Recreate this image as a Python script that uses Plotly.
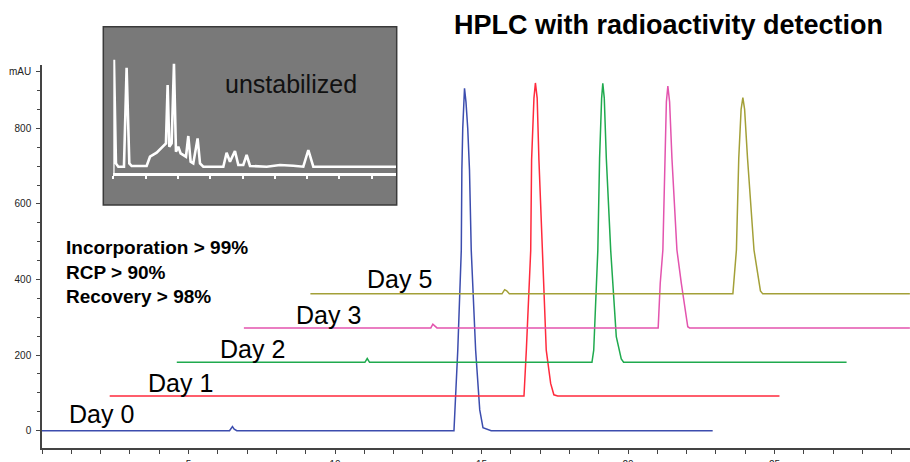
import plotly.graph_objects as go

# ---------------- data ----------------
day_names = ["Day 0", "Day 1", "Day 2", "Day 3", "Day 5"]
day_colors = ["#3C4DAE", "#FF2A3C", "#1FAA4E", "#E354AE", "#A3A038"]

day0_time = [0, 6.40, 6.50, 6.56, 6.65, 14.06, 14.19, 14.31, 14.33, 14.36, 14.42, 14.47, 14.53, 14.59, 14.65, 14.80, 14.94, 15.05, 15.33, 22.89]
day0_mau = [0, 0, 11, 4, 0, 0, 213, 477, 690, 800, 906, 870, 800, 690, 477, 213, 55, 8, 0, 0]

day1_time = [2.31, 16.45, 16.53, 16.68, 16.71, 16.79, 16.84, 16.90, 16.96, 17.07, 17.21, 17.36, 17.47, 17.60, 25.17]
day1_mau = [92, 92, 213, 477, 716, 880, 920, 880, 716, 477, 213, 125, 95, 92, 92]

day2_time = [4.60, 11.02, 11.10, 11.18, 18.77, 18.83, 18.97, 19.03, 19.10, 19.14, 19.19, 19.26, 19.41, 19.60, 19.77, 19.85, 27.46]
day2_mau = [181, 181, 191, 181, 181, 213, 477, 720, 880, 919, 880, 720, 477, 249, 190, 181, 181]

day3_time = [6.89, 13.27, 13.34, 13.42, 13.48, 21.03, 21.10, 21.19, 21.25, 21.31, 21.36, 21.42, 21.50, 21.67, 21.82, 22.04, 22.10, 29.62]
day3_mau = [272, 272, 282, 275, 272, 272, 390, 478, 720, 870, 912, 870, 720, 478, 390, 275, 272, 272]

day5_time = [9.16, 15.70, 15.79, 15.86, 15.95, 23.58, 23.70, 23.78, 23.86, 23.92, 23.98, 24.08, 24.30, 24.43, 24.52, 24.60, 29.62]
day5_mau = [362, 362, 373, 370, 362, 362, 478, 720, 850, 881, 850, 720, 478, 407, 370, 362, 362]

inset_time = [0, 0.10, 0.41, 0.77, 1.65, 2.06, 2.48, 2.84, 5.16, 5.68, 6.71, 7.74, 8.15, 8.41, 8.67, 9.03, 9.39, 9.70,
              10.06, 10.42, 10.84, 11.25, 11.61, 11.97, 12.38, 13.05, 13.42, 13.93, 17.03, 17.54, 18.06, 18.83, 19.35,
              20.12, 20.64, 21.16, 23.74, 25.80, 27.86, 29.41, 30.19, 30.96, 43.86]
inset_signal = [-6.6, 107, 3.3, 0, 0, 99, 3.3, 0.7, 0.7, 10, 14, 20.7, 23.3, 81.7, 20, 23.3, 103, 15,
                20, 13.3, 11.7, 10, 30.7, 5, 3.3, 28.3, 3.3, 0, 0, 14, 5, 15.7, 1.7,
                1.7, 11.7, 0.7, 0, 1.7, 1, 0, 16.7, 0, 0]

y_tick_vals = [0, 200, 400, 600, 800, 950]
y_tick_text = ["0", "200", "400", "600", "800", "mAU"]
x_tick_vals = [5, 10, 15, 20, 25]
x_tick_text = ["5", "10", "15", "20", "25"]

stats_lines = ["Incorporation > 99%", "RCP > 90%", "Recovery > 98%"]
title_text = "HPLC with radioactivity detection"
inset_text = "unstabilized"

# label anchor points (data coords of main chart)
day_label_x = [2.03, 4.72, 7.19, 9.77, 12.2]
day_label_y = [44, 126, 216, 307, 401]

FONT = "Liberation Sans, Arial, sans-serif"

# ---------------- figure ----------------
fig = go.Figure()

series = [(day0_time, day0_mau), (day1_time, day1_mau), (day2_time, day2_mau),
          (day3_time, day3_mau), (day5_time, day5_mau)]
for (t, v), name, col in zip(series, day_names, day_colors):
    fig.add_trace(go.Scatter(x=t, y=v, mode="lines", name=name,
                             line=dict(color=col, width=1.5),
                             hoverinfo="skip", showlegend=False,
                             xaxis="x", yaxis="y"))

fig.add_trace(go.Scatter(x=inset_time, y=inset_signal, mode="lines",
                         line=dict(color="white", width=2.6),
                         hoverinfo="skip", showlegend=False,
                         xaxis="x2", yaxis="y2"))

W, H = 910, 462
L, R, T, B = 42, 0, 0, 14
pw, ph = W - L - R, H - T - B


def px_x(p):
    return (p - L) / pw


def px_y(p):
    return (H - B - p) / ph


axis_color = "#444444"
tick_font = dict(family=FONT, size=10, color="#222222")

fig.update_layout(
    width=W, height=H,
    margin=dict(l=L, r=R, t=T, b=B, pad=0),
    template="none",
    paper_bgcolor="white",
    plot_bgcolor="rgba(0,0,0,0)",
    showlegend=False,
    xaxis=dict(domain=[0, 1], range=[0, pw / 29.3], anchor="y",
               showgrid=False, zeroline=False, showline=True,
               linecolor=axis_color, linewidth=1.5,
               ticks="outside", ticklen=4, tickwidth=1, tickcolor=axis_color,
               tickmode="array", tickvals=x_tick_vals, ticktext=x_tick_text,
               tickfont=tick_font, ticklabelstandoff=2,
               minor=dict(dtick=1, tick0=0, ticks="outside", ticklen=4,
                          tickwidth=1, tickcolor=axis_color, showgrid=False),
               automargin=False),
    yaxis=dict(domain=[0, px_y(65)], range=[-45.8, 967.5], anchor="x",
               showgrid=False, zeroline=False, showline=True,
               linecolor=axis_color, linewidth=1.5,
               ticks="outside", ticklen=4, tickwidth=1, tickcolor=axis_color,
               tickmode="array", tickvals=y_tick_vals, ticktext=y_tick_text,
               tickfont=tick_font, ticklabelstandoff=3,
               minor=dict(dtick=50, tick0=0, ticks="outside", ticklen=3,
                          tickwidth=1, tickcolor=axis_color, showgrid=False),
               automargin=False),
    xaxis2=dict(domain=[px_x(113.3), px_x(396)], range=[0, 43.76], anchor="y2",
                showgrid=False, zeroline=False, showline=True,
                linecolor="white", linewidth=2.6,
                ticks="outside", ticklen=3, tickwidth=1.5, tickcolor="white",
                dtick=5, tick0=0, showticklabels=False, automargin=False,
                fixedrange=True),
    yaxis2=dict(domain=[px_y(173.3), px_y(27)], range=[-6.6, 139.7], anchor="x2",
                visible=False, fixedrange=True),
    shapes=[dict(type="rect", xref="paper", yref="paper",
                 x0=px_x(103.3), x1=px_x(396.7), y0=px_y(205), y1=px_y(26.7),
                 fillcolor="#797979", line=dict(color="#3a3a3a", width=1.5),
                 layer="below")],
)

annotations = [
    dict(text="<b>" + title_text + "</b>", xref="paper", yref="paper",
         x=px_x(668), y=px_y(25), xanchor="center", yanchor="middle",
         showarrow=False, font=dict(family=FONT, size=27, color="black")),
    dict(text=inset_text, xref="paper", yref="paper",
         x=px_x(291), y=px_y(84), xanchor="center", yanchor="middle",
         showarrow=False, font=dict(family=FONT, size=25, color="#111111")),
    dict(text="<br>".join("<b>" + s + "</b>" for s in stats_lines),
         xref="paper", yref="paper", x=px_x(64), y=px_y(235),
         xanchor="left", yanchor="top", align="left", showarrow=False,
         font=dict(family=FONT, size=19, color="black")),
]
for name, lx, ly in zip(day_names, day_label_x, day_label_y):
    annotations.append(dict(text=name, xref="x", yref="y", x=lx, y=ly,
                            xanchor="center", yanchor="middle", showarrow=False,
                            font=dict(family=FONT, size=25, color="black")))
fig.update_layout(annotations=annotations)

fig.write_html(
    "out.html",
    config={"displayModeBar": False},
    post_script="document.body.style.margin='0px';document.documentElement.style.overflow='hidden';",
)
